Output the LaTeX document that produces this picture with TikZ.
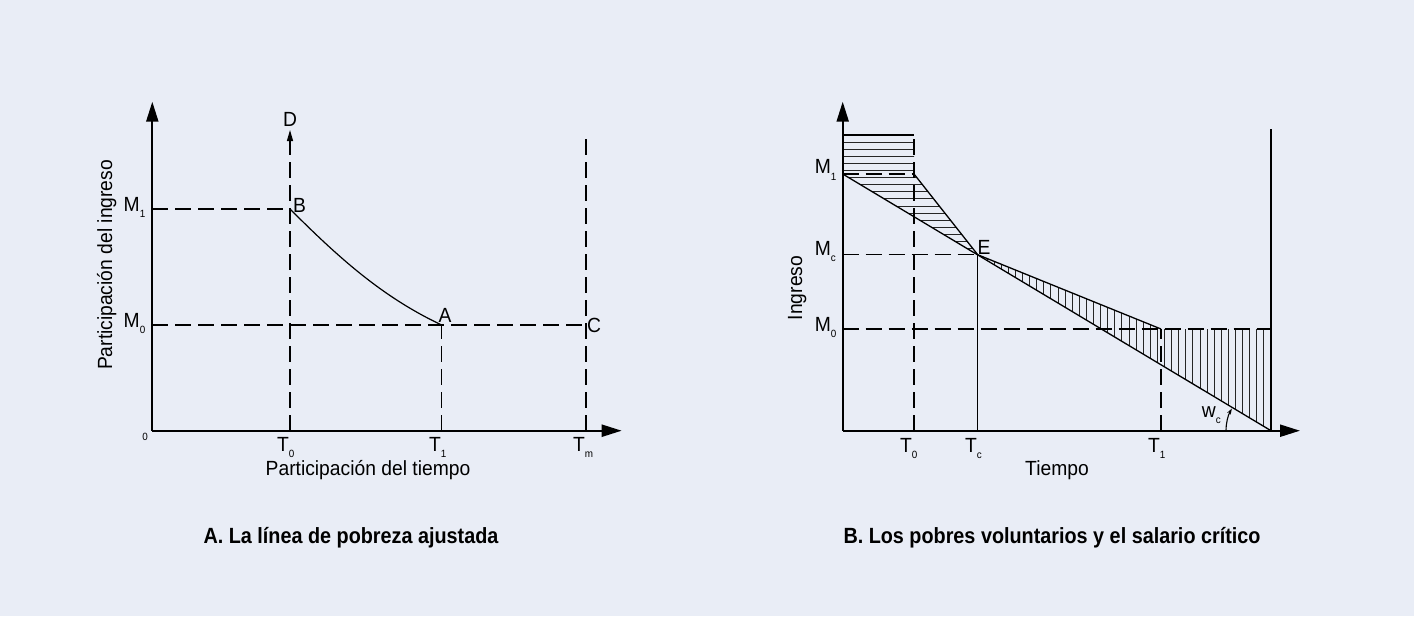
\documentclass[tikz,border=0pt]{standalone}
\usepackage{fontspec}
\setmainfont{Liberation Sans}[FakeStretch=0.94]
\newfontfamily\capfont{Liberation Sans}[FakeStretch=0.9]
\usetikzlibrary{arrows.meta}
\definecolor{bg}{RGB}{233,237,246}
\newcommand{\hsub}[1]{\rlap{\raisebox{-6.5pt}{\fontsize{10.5}{10.5}\selectfont #1}}}
\tikzset{
  axisline/.style={line width=2.2pt,-{Triangle[length=20pt,width=12pt]}},
  dshline/.style={line width=1.15pt,dash pattern=on 16pt off 7pt},
  solidline/.style={line width=1.3pt},
  hatchline/.style={line width=0.9pt,black!85},
  lbl/.style={font=\fontsize{20.5}{20.5}\selectfont,inner sep=0pt},
  captext/.style={font=\fontsize{22}{22}\selectfont\capfont\bfseries,inner sep=0pt,anchor=base}
}
\begin{document}
\begin{tikzpicture}[x=1pt,y=-1pt]
\fill[bg] (0,0) rectangle (1414,616);
\useasboundingbox (0,0) rectangle (1414,616);

% ---------------- Left graph ----------------
\coordinate (O1) at (152.3,430.7);
\coordinate (Y1) at (152.3,101.7);
\coordinate (X1) at (621.7,430.7);
\coordinate (B) at (290,209);
\coordinate (A) at (441.7,325);
\coordinate (C) at (586,325);
\coordinate (T0a) at (290,430.7);
\coordinate (Dtip) at (290,130);
\coordinate (T1a) at (441.7,430.7);
\coordinate (Tma) at (586,430.7);
\coordinate (Tmtop) at (586,135);
\coordinate (M1a) at (152.3,209);
\coordinate (M0a) at (152.3,325);

\draw[dshline] (M1a) -- (B);
\draw[dshline] (M0a) -- (C);
\draw[dshline] (T1a) -- (A);
\draw[dshline] (Tma) -- (Tmtop);
\draw[dshline] (T0a) -- (290,142);
\draw[line width=1.2pt,-{Triangle[length=11pt,width=6pt]}] (290,143) -- (Dtip);
\draw[line width=1.2pt] (B) .. controls (338,257) and (382,297) .. (A);
\draw[axisline] (O1) -- (Y1);
\draw[axisline] (O1) -- (X1);

\node[lbl] (lD) at (290,119) {D};
\node[lbl,anchor=west] (lB) at (293,205) {B};
\node[lbl] (lA) at (445,315) {A};
\node[lbl] (lC) at (594,325) {C};
\node[lbl,anchor=base east] (lM1) at (140,211) {M\hsub{1}};
\node[lbl,anchor=base east] (lM0) at (140,327) {M\hsub{0}};
\node[lbl,anchor=base east] (lT0) at (289,451) {T\hsub{0}};
\node[lbl,anchor=base east] (lT1) at (441,451) {T\hsub{1}};
\node[lbl,anchor=base east] (lTm) at (585,451) {T\hsub{m}};
\node[inner sep=0pt,font=\fontsize{10.5}{10.5}\selectfont] (l0) at (145,437) {0};
\node[lbl,anchor=base] (xl1) at (368,475) {Participación del tiempo};
\node[lbl,rotate=90,anchor=base] (yl1) at (112,265) {Participación del ingreso};
\node[captext] (capA) at (351,543.5) {A. La línea de pobreza ajustada};

% ---------------- Right graph ----------------
\coordinate (O2) at (842.7,430.7);
\coordinate (Y2) at (842.7,101.7);
\coordinate (X2) at (1300,430.7);
\coordinate (M1b) at (842.7,174);
\coordinate (P1) at (914,174);
\coordinate (Btop) at (914,135);
\coordinate (Btl) at (842.7,135);
\coordinate (E) at (977.7,254.7);
\coordinate (Mcb) at (842.7,254.7);
\coordinate (Tcb) at (977.7,430.7);
\coordinate (Q) at (1161,329);
\coordinate (M0b) at (842.7,329);
\coordinate (R0) at (1271,329);
\coordinate (Rb) at (1271,430.7);
\coordinate (Rt) at (1271,129);
\coordinate (T0b) at (914,430.7);
\coordinate (T1b) at (1161,430.7);

% horizontal hatching
\begin{scope}
\clip (Btl) -- (Btop) -- (P1) -- (E) -- (M1b) -- cycle;
\foreach \k in {1,...,17} {
  \draw[hatchline] (842.7,135+7.1*\k) -- (990,135+7.1*\k);
}
\end{scope}
% vertical hatching
\begin{scope}
\clip (E) -- (Q) -- (R0) -- (Rb) -- cycle;
\foreach \k in {1,...,42} {
  \draw[hatchline] (1271-7.1*\k,250) -- (1271-7.1*\k,432);
}
\end{scope}

\draw[solidline] (Btl) -- (Btop);
\draw[dshline] (T0b) -- (Btop);
\draw[dshline] (M1b) -- (P1);
\draw[dshline] (Mcb) -- (E);
\draw[dshline] (M0b) -- (R0);
\draw[dshline] (T1b) -- (Q);
\draw[solidline] (P1) -- (E) -- (Q);
\draw[solidline] (M1b) -- (Rb);
\draw[solidline] (E) -- (Tcb);
\draw[line width=1.5pt] (Rb) -- (Rt);
\draw[line width=1.1pt,-{Stealth[length=6pt,width=4pt]}] (1226,430.7) arc[start angle=180,end angle=209.5,radius=45];
\draw[axisline] (O2) -- (Y2);
\draw[axisline] (O2) -- (X2);

\node[lbl] (lE) at (984,247) {E};
\node[lbl,anchor=base east] (lM1b) at (831,173.5) {M\hsub{1}};
\node[lbl,anchor=base east] (lMc) at (831,255) {M\hsub{c}};
\node[lbl,anchor=base east] (lM0b) at (831,331) {M\hsub{0}};
\node[lbl,anchor=base east] (lT0b) at (912,452) {T\hsub{0}};
\node[lbl,anchor=base east] (lTc) at (977,452) {T\hsub{c}};
\node[lbl,anchor=base east] (lT1b) at (1160,452) {T\hsub{1}};
\node[lbl,anchor=base east] (lwc) at (1216,417) {w\hsub{c}};
\node[lbl,anchor=base] (xl2) at (1057,475) {Tiempo};
\node[lbl,rotate=90,anchor=base] (yl2) at (802,288) {Ingreso};
\node[captext] (capB) at (1052,543.5) {B. Los pobres voluntarios y el salario crítico};
\end{tikzpicture}
\end{document}
